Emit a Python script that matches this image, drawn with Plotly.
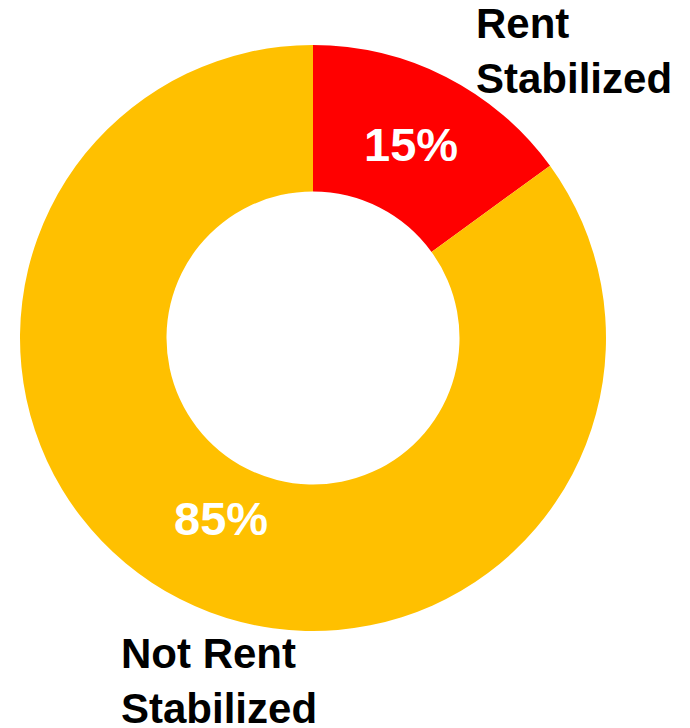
import math
import plotly.graph_objects as go

# Share of units by rent-regulation status
categories = ["Rent Stabilized", "Not Rent Stabilized"]
shares = [15, 85]
colors = ["#FF0000", "#FFC000"]
label_text = ["Rent<br>Stabilized", "Not Rent<br>Stabilized"]

W, H = 690, 728
cx, cy, r = 313, 338, 293    # donut centre and outer radius, px
pct_radius = [0.74, 0.69]    # radial spot of each percentage label, fraction of r


def px_x(v):
    return v / W


def px_y(v):
    return 1 - v / H


fig = go.Figure(
    go.Pie(
        labels=categories,
        values=shares,
        sort=False,
        direction="clockwise",
        rotation=0,
        hole=0.5,
        marker=dict(colors=colors, line=dict(width=0)),
        textinfo="none",
        showlegend=False,
        hoverinfo="label+percent",
        domain=dict(
            x=[px_x(cx - r), px_x(cx + r)],
            y=[px_y(cy + r), px_y(cy - r)],
        ),
    )
)

# percentage labels at each slice's mid-angle (clockwise from 12 o'clock)
total = sum(shares)
start = 0.0
pct_font = dict(family="Liberation Sans", size=47, color="white", weight="bold")
for v, rf in zip(shares, pct_radius):
    mid = (start + v / 2) / total * 2 * math.pi
    start += v
    x = cx + rf * r * math.sin(mid)
    y = cy - rf * r * math.cos(mid)
    fig.add_annotation(
        text=f"{v}%", x=px_x(x), y=px_y(y), xref="paper", yref="paper",
        xanchor="center", yanchor="middle", showarrow=False, font=pct_font,
    )

label_font = dict(family="Liberation Sans", size=42, color="black", weight="bold")
fig.add_annotation(
    text=label_text[0], x=px_x(474), y=px_y(51), xref="paper", yref="paper",
    xanchor="left", yanchor="middle", align="left", showarrow=False, font=label_font,
)
fig.add_annotation(
    text=label_text[1], x=px_x(119), y=px_y(681), xref="paper", yref="paper",
    xanchor="left", yanchor="middle", align="left", showarrow=False, font=label_font,
)

fig.update_layout(
    width=W,
    height=H,
    margin=dict(l=0, r=0, t=0, b=0),
    paper_bgcolor="white",
    plot_bgcolor="white",
)

fig.write_html("out.html")
